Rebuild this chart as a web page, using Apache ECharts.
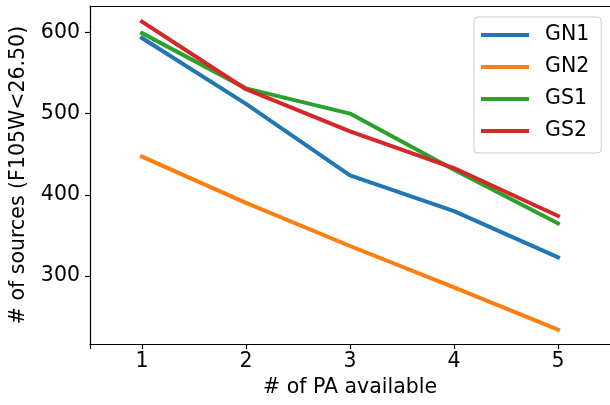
<!DOCTYPE html>
<html>
<head>
<meta charset="utf-8">
<script src="https://cdn.jsdelivr.net/npm/echarts@6/dist/echarts.min.js"></script>
<style>html,body{margin:0;padding:0;background:#fff}#c{width:610px;height:405px}</style>
</head>
<body>
<div id="c"></div>
<script>
const paAvailable = [1, 2, 3, 4, 5];
const gn1 = [593, 512, 424, 380, 323];
const gn2 = [447, 390, 337, 286, 234];
const gs1 = [599, 531, 500, 431, 365];
const gs2 = [613, 530, 478, 433, 374];
const seriesNames = ['GN1', 'GN2', 'GS1', 'GS2'];
const seriesColors = ['#1f77b4', '#ff7f0e', '#2ca02c', '#d62728'];
const xTickValues = [0.5, 1, 2, 3, 4, 5];
const xLabelValues = [1, 2, 3, 4, 5];
const yTickValues = [300, 400, 500, 600];

const font = 'DejaVu Sans';
const fs = 20.5;
const allData = [gn1, gn2, gs1, gs2];
const chart = echarts.init(document.getElementById('c'), null, {renderer: 'canvas'});
chart.setOption({
  animation: false,
  backgroundColor: '#fff',
  textStyle: {fontFamily: font},
  grid: {left: 90, top: 6, right: 0, bottom: 61, show: false, containLabel: false},
  legend: {
    orient: 'vertical', left: 474, top: 17,
    padding: [7, 12, 11, 7],
    itemWidth: 48, itemHeight: 4, itemGap: 10,
    icon: 'rect',
    backgroundColor: 'rgba(255,255,255,0.8)',
    borderColor: '#cccccc', borderWidth: 1, borderRadius: 4,
    textStyle: {fontFamily: font, fontSize: fs, color: '#000', lineHeight: 22, padding: [0, 0, 0, 11]},
    data: seriesNames
  },
  xAxis: [{
    type: 'value', min: 0.5, max: 5.5, position: 'bottom',
    name: '# of PA available', nameLocation: 'middle', nameGap: 32,
    nameTextStyle: {fontFamily: font, fontSize: fs, color: '#000'},
    axisLine: {show: true, onZero: false, lineStyle: {color: '#000', width: 1.2}},
    axisTick: {show: true, inside: false, length: 5, lineStyle: {color: '#000', width: 1.2}, customValues: xTickValues},
    axisLabel: {fontFamily: font, fontSize: fs, color: '#000', margin: 7, customValues: xLabelValues},
    splitLine: {show: false}
  }, {
    type: 'value', min: 0.5, max: 5.5, position: 'top',
    axisLine: {show: true, onZero: false, lineStyle: {color: '#000', width: 1.2}},
    axisTick: {show: false}, axisLabel: {show: false}, splitLine: {show: false}
  }],
  yAxis: {
    type: 'value', min: 216.4, max: 632.4,
    name: '# of sources (F105W<26.50)', nameLocation: 'middle', nameGap: 61,
    nameTextStyle: {fontFamily: font, fontSize: fs, color: '#000'},
    axisLine: {show: true, onZero: false, lineStyle: {color: '#000', width: 1.2}},
    axisTick: {show: true, inside: false, length: 5, lineStyle: {color: '#000', width: 1.2}, customValues: yTickValues},
    axisLabel: {fontFamily: font, fontSize: fs, color: '#000', margin: 10, customValues: yTickValues},
    splitLine: {show: false}
  },
  series: seriesNames.map((name, i) => ({
    name: name,
    type: 'line',
    xAxisIndex: 0,
    data: paAvailable.map((x, j) => [x, allData[i][j]]),
    symbol: 'none',
    smooth: false,
    color: seriesColors[i],
    lineStyle: {width: 4, color: seriesColors[i], cap: 'square', join: 'round'}
  }))
});
</script>
</body>
</html>
